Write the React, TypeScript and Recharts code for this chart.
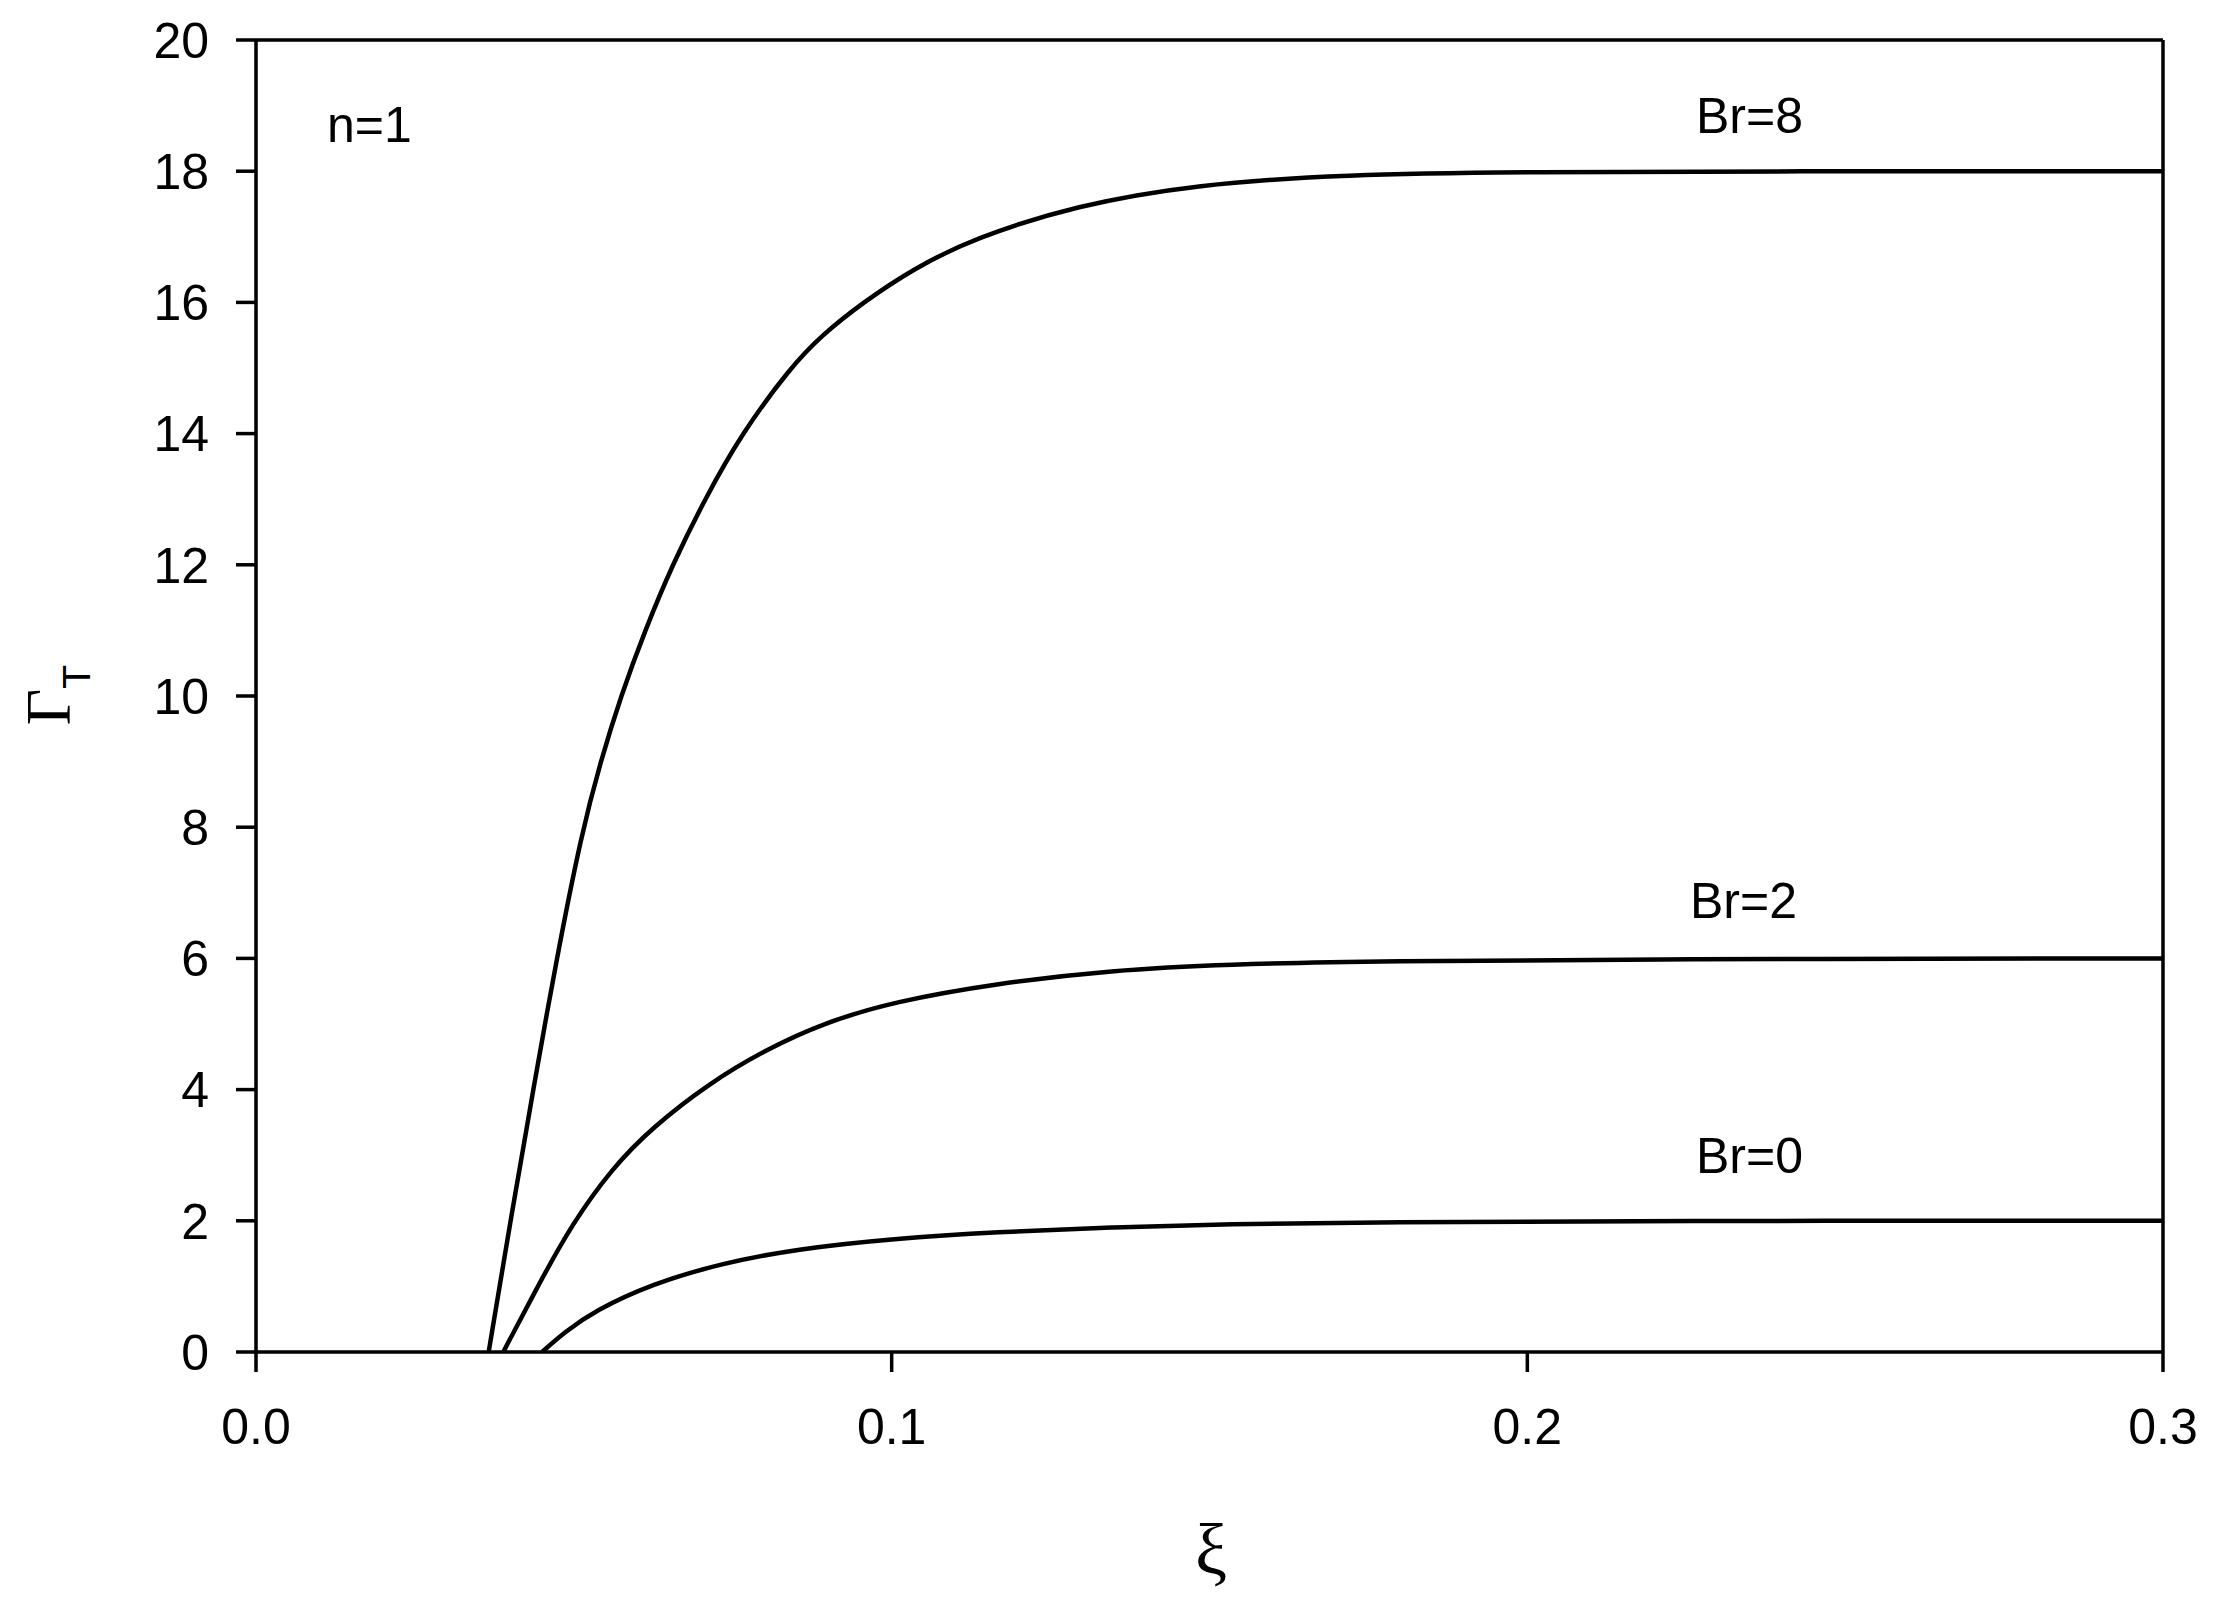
import { LineChart, Line, XAxis, YAxis, ReferenceLine } from 'recharts';

const xTicks = [0, 0.1, 0.2, 0.3];
const yTicks = [0, 2, 4, 6, 8, 10, 12, 14, 16, 18, 20];

// Br = 8
const br8Xi = [0.0366, 0.0402, 0.0438, 0.0472, 0.0512, 0.0542, 0.0574, 0.0612, 0.0655, 0.0706, 0.0764, 0.084, 0.089, 0.0955, 0.1035, 0.113, 0.129, 0.148, 0.171, 0.2, 0.24, 0.3];
const br8Gamma = [0, 2.1, 4.1, 5.95, 7.9, 9.0, 10.0, 11.0, 12.0, 13.0, 14.0, 15.0, 15.5, 16.0, 16.52, 16.98, 17.48, 17.8, 17.95, 17.99, 18.0, 18.0];

// Br = 2
const br2Xi = [0.0389, 0.0443, 0.0497, 0.056, 0.0623, 0.0713, 0.0804, 0.0894, 0.1003, 0.1165, 0.1346, 0.1526, 0.1768, 0.22, 0.3];
const br2Gamma = [0, 1.0, 1.95, 2.8, 3.42, 4.1, 4.62, 5.02, 5.34, 5.62, 5.82, 5.91, 5.96, 5.99, 6.0];

// Br = 0
const br0Xi = [0.045, 0.0485, 0.0533, 0.0623, 0.0732, 0.0849, 0.1003, 0.1165, 0.1346, 0.1526, 0.1768, 0.22, 0.3];
const br0Gamma = [0, 0.3, 0.63, 1.04, 1.35, 1.57, 1.73, 1.83, 1.9, 1.95, 1.98, 2.0, 2.0];

const toPoints = (xs: number[], ys: number[]) => xs.map((x, i) => ({ xi: x, gamma: ys[i] }));

const br8 = toPoints(br8Xi, br8Gamma);
const br2 = toPoints(br2Xi, br2Gamma);
const br0 = toPoints(br0Xi, br0Gamma);

const sans = 'Liberation Sans, Arial, sans-serif';
const serif = 'Liberation Serif, Times New Roman, serif';
const tickStyle = { fill: '#000', fontSize: 50, fontFamily: sans };
const axisStroke = { stroke: '#000', strokeWidth: 3.5 };

export default function App() {
  return (
    <div style={{ position: 'absolute', left: 0, top: 0, background: '#fff' }}>
      <LineChart width={2217} height={1616} margin={{ top: 40, right: 54, bottom: 204, left: 176 }}>
        <XAxis
          type="number"
          dataKey="xi"
          domain={[0, 0.3]}
          ticks={xTicks}
          tickFormatter={(v: number) => v.toFixed(1)}
          tickSize={20}
          tickMargin={36}
          height={60}
          axisLine={axisStroke}
          tickLine={axisStroke}
          tick={tickStyle}
          allowDataOverflow
        />
        <YAxis
          type="number"
          domain={[0, 20]}
          ticks={yTicks}
          tickSize={20}
          tickMargin={27}
          width={80}
          axisLine={axisStroke}
          tickLine={axisStroke}
          tick={tickStyle}
          allowDataOverflow
        />
        <ReferenceLine y={20} stroke="#000" strokeWidth={3.5} />
        <ReferenceLine x={0.3} stroke="#000" strokeWidth={3.5} />

        <Line data={br8} dataKey="gamma" type="basis" stroke="#000" strokeWidth={4.5} dot={false} isAnimationActive={false} />
        <Line data={br2} dataKey="gamma" type="basis" stroke="#000" strokeWidth={4.5} dot={false} isAnimationActive={false} />
        <Line data={br0} dataKey="gamma" type="basis" stroke="#000" strokeWidth={4.5} dot={false} isAnimationActive={false} />

        <text x={327} y={142} fontSize={50} fontFamily={sans} fill="#000">n=1</text>
        <text x={1696} y={133} fontSize={50} fontFamily={sans} fill="#000">Br=8</text>
        <text x={1690} y={918} fontSize={50} fontFamily={sans} fill="#000">Br=2</text>
        <text x={1696} y={1173} fontSize={50} fontFamily={sans} fill="#000">Br=0</text>

        <text x={1211} y={1574} fontSize={72} fontFamily={serif} fill="#000" textAnchor="middle">ξ</text>
        <text x={70} y={695} transform="rotate(-90, 70, 695)" textAnchor="middle" fill="#000">
          <tspan fontSize={63} fontFamily={serif}>Γ</tspan>
          <tspan fontSize={39} fontFamily={sans} dy={20}>T</tspan>
        </text>
      </LineChart>
    </div>
  );
}
